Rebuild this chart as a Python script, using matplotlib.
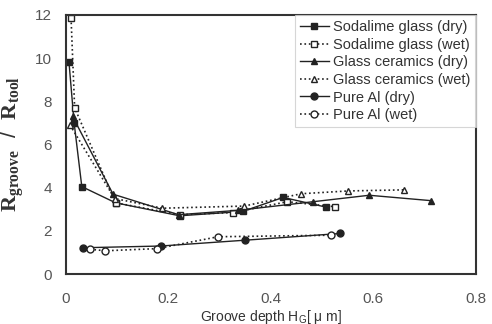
import matplotlib
matplotlib.use("Agg")
import matplotlib.pyplot as plt

plt.rcParams['font.family'] = ['Liberation Sans', 'DejaVu Sans']
plt.rcParams['mathtext.fontset'] = 'custom'
plt.rcParams['mathtext.rm'] = 'Liberation Sans'
plt.rcParams['mathtext.it'] = 'Liberation Sans:italic'
plt.rcParams['mathtext.bf'] = 'Liberation Serif:bold'

# Data (groove depth in um, ratio Rgroove/Rtool)
soda_dry_x = [0.006, 0.016, 0.031, 0.097, 0.222, 0.345, 0.424, 0.508]
soda_dry_y = [9.8, 7.0, 4.05, 3.3, 2.7, 2.9, 3.55, 3.1]
soda_wet_x = [0.010, 0.017, 0.097, 0.222, 0.326, 0.432, 0.525]
soda_wet_y = [11.85, 7.7, 3.3, 2.75, 2.85, 3.35, 3.12]
cer_dry_x = [0.013, 0.092, 0.22, 0.335, 0.482, 0.592, 0.713]
cer_dry_y = [7.3, 3.7, 2.75, 2.95, 3.35, 3.65, 3.4]
cer_wet_x = [0.008, 0.095, 0.188, 0.348, 0.459, 0.551, 0.66]
cer_wet_y = [6.9, 3.5, 3.05, 3.15, 3.72, 3.85, 3.9]
al_dry_x = [0.033, 0.185, 0.35, 0.535]
al_dry_y = [1.22, 1.3, 1.57, 1.88]
al_wet_x = [0.047, 0.077, 0.178, 0.297, 0.518]
al_wet_y = [1.15, 1.08, 1.18, 1.73, 1.8]

xticks = [0, 0.2, 0.4, 0.6, 0.8]
xticklabels = ['0', '0.2', '0.4', '0.6', '0.8']
yticks = [0, 2, 4, 6, 8, 10, 12]

fig = plt.figure(figsize=(4.92, 3.24), dpi=100)
ax = fig.add_axes([0.134, 0.154, 0.833, 0.80])

c = '#222222'
ms = 5
ax.plot(soda_dry_x, soda_dry_y, '-', marker='s', color=c, mfc=c, ms=ms, lw=1.0, label='Sodalime glass (dry)')
ax.plot(soda_wet_x, soda_wet_y, ':', marker='s', color=c, mfc='white', ms=ms, lw=1.2, label='Sodalime glass (wet)')
ax.plot(cer_dry_x, cer_dry_y, '-', marker='^', color=c, mfc=c, ms=ms, lw=1.0, label='Glass ceramics (dry)')
ax.plot(cer_wet_x, cer_wet_y, ':', marker='^', color=c, mfc='white', ms=ms, lw=1.2, label='Glass ceramics (wet)')
ax.plot(al_dry_x, al_dry_y, '-', marker='o', color=c, mfc=c, ms=ms, lw=1.0, label='Pure Al (dry)')
ax.plot(al_wet_x, al_wet_y, ':', marker='o', color=c, mfc='white', ms=ms, lw=1.2, label='Pure Al (wet)')

ax.set_xlim(0, 0.8)
ax.set_ylim(0, 12)
ax.set_xticks(xticks)
ax.set_xticklabels(xticklabels)
ax.set_yticks(yticks)
ax.tick_params(length=0, labelsize=11, colors='#555555')
ax.tick_params(axis='x', pad=13)
ax.tick_params(axis='y', pad=10)
for s in ax.spines.values():
    s.set_linewidth(1.5)
    s.set_color('#333333')

ax.set_xlabel('Groove depth H$_\\mathrm{G}$[ μ m]', fontsize=10, color='#333333', labelpad=1)
ax.set_ylabel(r'$\mathbf{R}_{\mathbf{groove}}$  /  $\mathbf{R}_{\mathbf{tool}}$', fontsize=16,
              color='#333333', labelpad=6)

leg = ax.legend(loc='upper right', fontsize=10.5, frameon=True, handlelength=2.0,
                borderaxespad=0.0, labelspacing=0.25, handletextpad=0.3, fancybox=False,
                borderpad=0.35)
leg.get_frame().set_edgecolor('#cccccc')
leg.get_frame().set_linewidth(0.8)
for t in leg.get_texts():
    t.set_color('#333333')

fig.savefig('out.png', dpi=100)
